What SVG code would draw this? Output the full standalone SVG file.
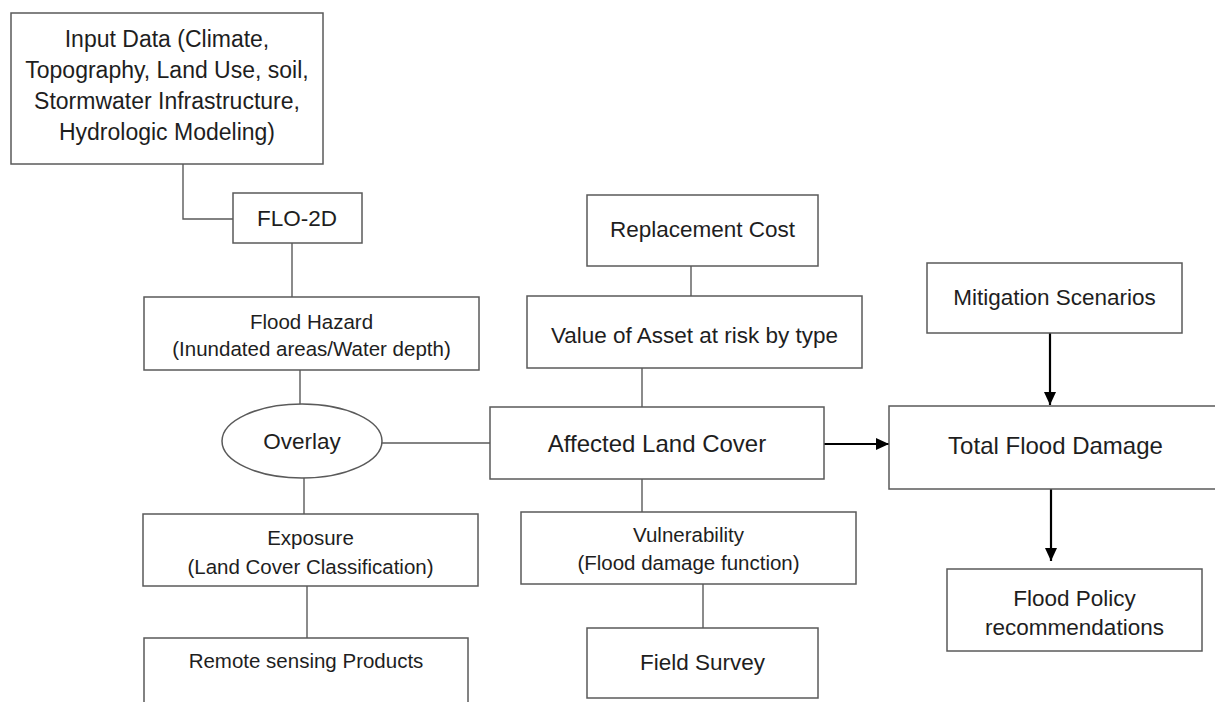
<svg xmlns="http://www.w3.org/2000/svg" width="1215" height="702" viewBox="0 0 1215 702">
  <style>
    .box { fill: #ffffff; stroke: #5a5a5a; stroke-width: 1.5; }
    .ln { fill: none; stroke: #5a5a5a; stroke-width: 1.4; }
    .arr { fill: none; stroke: #000000; stroke-width: 2.2; }
    text { font-family: "Liberation Sans", Arial, sans-serif; fill: #1e1e1e; text-anchor: middle; }
    .s { font-size: 20.5px; }
    .m { font-size: 22.5px; }
    .l { font-size: 24px; }
    .xl { font-size: 23px; }
  </style>
  <defs>
    <marker id="ah" markerUnits="userSpaceOnUse" markerWidth="14" markerHeight="13" refX="13" refY="6" orient="auto">
      <path d="M0,0 L13,6 L0,12 z" fill="#000000"/>
    </marker>
  </defs>
  <rect width="1215" height="702" fill="#ffffff"/>

  <g id="connectors">
    <polyline class="ln" points="183,164 183,219 233,219"/>
    <line class="ln" x1="292" y1="243" x2="292" y2="297"/>
    <line class="ln" x1="300" y1="370" x2="300" y2="405"/>
    <line class="ln" x1="382" y1="443" x2="490" y2="443"/>
    <line class="ln" x1="304" y1="478" x2="304" y2="514"/>
    <line class="ln" x1="307" y1="586" x2="307" y2="638"/>
    <line class="ln" x1="691" y1="266" x2="691" y2="296"/>
    <line class="ln" x1="642" y1="368" x2="642" y2="407"/>
    <line class="ln" x1="642" y1="479" x2="642" y2="512"/>
    <line class="ln" x1="703" y1="584" x2="703" y2="628"/>
    <line class="arr" x1="824" y1="444" x2="889" y2="444" marker-end="url(#ah)"/>
    <line class="arr" x1="1050" y1="333" x2="1050" y2="405" marker-end="url(#ah)"/>
    <line class="arr" x1="1051" y1="489" x2="1051" y2="561" marker-end="url(#ah)"/>
  </g>

  <g id="input-data">
    <rect class="box" x="11" y="13" width="312" height="151"/>
    <text class="xl" x="167" y="47">Input Data (Climate,</text>
    <text class="xl" x="167" y="78">Topography, Land Use, soil,</text>
    <text class="xl" x="167" y="109">Stormwater Infrastructure,</text>
    <text class="xl" x="167" y="140">Hydrologic Modeling)</text>
  </g>

  <g id="flo2d">
    <rect class="box" x="233" y="193" width="129" height="50"/>
    <text class="m" x="297" y="226">FLO-2D</text>
  </g>

  <g id="flood-hazard">
    <rect class="box" x="144" y="297" width="335" height="73"/>
    <text class="s" x="311.5" y="329">Flood Hazard</text>
    <text class="s" x="311.5" y="356">(Inundated areas/Water depth)</text>
  </g>

  <g id="overlay">
    <ellipse class="box" cx="302" cy="441" rx="80" ry="37"/>
    <text class="m" x="302" y="449">Overlay</text>
  </g>

  <g id="exposure">
    <rect class="box" x="143" y="514" width="335" height="72"/>
    <text class="s" x="310.5" y="545">Exposure</text>
    <text class="s" x="310.5" y="574">(Land Cover Classification)</text>
  </g>

  <g id="remote-sensing">
    <rect class="box" x="144" y="638" width="324" height="80"/>
    <text class="s" x="306" y="668">Remote sensing Products</text>
  </g>

  <g id="replacement-cost">
    <rect class="box" x="587" y="195" width="231" height="71"/>
    <text class="m" x="702.5" y="237">Replacement Cost</text>
  </g>

  <g id="value-of-asset">
    <rect class="box" x="527" y="296" width="335" height="72"/>
    <text class="m" x="694.5" y="343">Value of Asset at risk by type</text>
  </g>

  <g id="affected-land-cover">
    <rect class="box" x="490" y="407" width="334" height="72"/>
    <text class="l" x="657" y="452">Affected Land Cover</text>
  </g>

  <g id="vulnerability">
    <rect class="box" x="521" y="512" width="335" height="72"/>
    <text class="s" x="688.5" y="542">Vulnerability</text>
    <text class="s" x="688.5" y="570">(Flood damage function)</text>
  </g>

  <g id="field-survey">
    <rect class="box" x="587" y="628" width="231" height="70"/>
    <text class="m" x="702.5" y="670">Field Survey</text>
  </g>

  <g id="mitigation-scenarios">
    <rect class="box" x="927" y="263" width="255" height="70"/>
    <text class="m" x="1054.5" y="305">Mitigation Scenarios</text>
  </g>

  <g id="total-flood-damage">
    <rect class="box" x="889" y="406" width="340" height="83"/>
    <text class="l" x="1055.5" y="454">Total Flood Damage</text>
  </g>

  <g id="flood-policy">
    <rect class="box" x="947" y="569" width="255" height="82"/>
    <text class="m" x="1074.5" y="606">Flood Policy</text>
    <text class="m" x="1074.5" y="635">recommendations</text>
  </g>
</svg>
